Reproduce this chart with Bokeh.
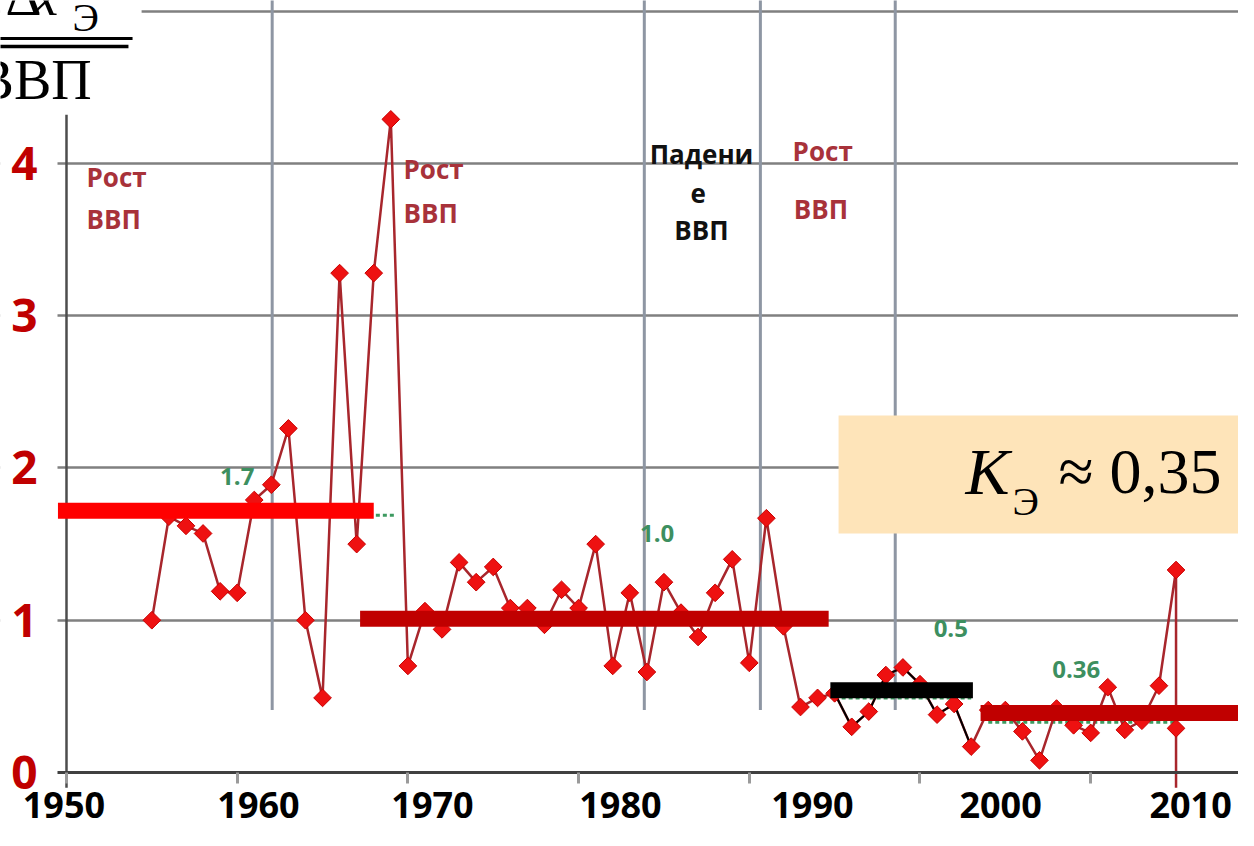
import numpy as np
from bokeh.plotting import figure
from bokeh.models import Range1d, FixedTicker, BoxAnnotation, Label, LinearAxis
from bokeh.embed import file_html
from bokeh.resources import INLINE
from bokeh.core.properties import value

# ---------------- data ----------------
years = list(range(1955, 2016)) + [2015, 2015]
values = [1.00, 1.68, 1.62, 1.57, 1.19, 1.18, 1.79, 1.89, 2.26, 1.00,
          0.49, 3.28, 1.50, 3.28, 4.29, 0.70, 1.06, 0.94, 1.38, 1.25,
          1.35, 1.08, 1.08, 0.97, 1.20, 1.08, 1.50, 0.70, 1.18, 0.66,
          1.25, 1.05, 0.89, 1.18, 1.40, 0.72, 1.67, 0.96, 0.43, 0.49,
          0.52, 0.30, 0.40, 0.64, 0.69, 0.58, 0.38, 0.45, 0.17, 0.41,
          0.41, 0.27, 0.08, 0.42, 0.31, 0.26, 0.56, 0.28, 0.34, 0.57,
          1.33, 0.29, -0.10]

# period averages (thick bars)
period_start = [1949.5, 1967.2, 1994.75, 2003.55]
period_end = [1968.0, 1994.65, 2003.1, 2019.6]
period_avg = [1.72, 1.01, 0.54, 0.39]
period_colors = ["#FF0000", "#C00000", "#000000", "#C00000"]

# hidden green average series
green_start = [1955.0, 1967.5, 1995.0, 2004.0]
green_end = [1969.3, 1994.5, 2003.0, 2015.0]
green_avg = [1.69, 1.00, 0.49, 0.33]
avg_labels = ["1.7", "1.0", "0.5", "0.36"]
avg_label_x = [1959.0, 1983.6, 2000.8, 2007.75]
avg_label_y = [1.885, 1.51, 0.887, 0.617]

# period separators
sep_years = [1962.05, 1983.85, 1990.65, 1998.55]
sep_bottom = 0.41
sep_top = 5.2

# region texts
reg_text = ["Рост", "ВВП", "Рост", "ВВП", "Падени", "е", "ВВП", "Рост", "ВВП"]
reg_x = [1951.17, 1951.17, 1969.74, 1969.74, 1987.2, 1987.0, 1987.2, 1994.3, 1994.2]
reg_y = [3.849, 3.573, 3.901, 3.612, 4.0, 3.744, 3.501, 4.02, 3.639]
reg_align = ["left", "left", "left", "left", "center", "center", "center", "center", "center"]
reg_color = ["#A8323A"] * 4 + ["#111111"] * 3 + ["#A8323A"] * 2

# axes
y_ticks = [0, 1, 2, 3, 4]
grid_ticks = [1, 2, 3, 4, 5]
x_tick_years = [1950, 1960, 1970, 1980, 1990, 2000, 2010]
x_tick_labels = ["1950", "1960", "1970", "1980", "1990", "2000", "2010"]
x_label_pos = [1949.85, 1961.25, 1971.44, 1982.45, 1993.7, 2004.72, 2015.85]

X0, X1 = 1946.134, 2018.659
Y0, Y1 = -0.381, 5.0706
FRAME_LEFT = 1949.473
PX = 152.25          # pixels per y unit


def base_fix(font_px):
    """shift (in y units) so that the drawn baseline lands on the requested y"""
    return 0.37 * font_px / PX


# ---------------- figure ----------------
p = figure(width=1238, height=830,
           x_range=Range1d(X0, X1), y_range=Range1d(Y0, Y1),
           output_backend="svg", toolbar_location=None,
           x_axis_location=None, y_axis_location="left",
           min_border_left=0, min_border_right=0, min_border_top=0, min_border_bottom=0)
p.outline_line_color = None
p.background_fill_color = "white"
p.border_fill_color = "white"
p.xgrid.visible = False
p.ygrid.ticker = FixedTicker(ticks=grid_ticks)
p.ygrid.grid_line_color = "#808080"
p.ygrid.grid_line_width = 2.5

# white mask left of the plot area (gridlines start at the axis tick area)
p.add_layout(BoxAnnotation(left=X0 - 1, right=FRAME_LEFT, bottom=Y0 - 1, top=Y1 + 1,
                           fill_color="white", fill_alpha=1.0, line_color=None,
                           level="underlay"))

yax = p.yaxis[0]
yax.fixed_location = 1950
yax.ticker = FixedTicker(ticks=y_ticks)
yax.axis_line_color = None
yax.major_tick_line_color = None
yax.minor_tick_line_color = None
yax.major_tick_in = 0
yax.major_tick_out = 0
yax.major_label_standoff = 29
yax.major_label_text_font = "Open Sans"
yax.major_label_text_font_style = "bold"
yax.major_label_text_font_size = "46px"
yax.major_label_text_color = "#C00000"

xax = LinearAxis(ticker=FixedTicker(ticks=x_label_pos, minor_ticks=x_tick_years),
                 fixed_location=0, bounds=(FRAME_LEFT, 2030),
                 major_label_overrides={float(k): v for k, v in zip(x_label_pos, x_tick_labels)},
                 axis_line_color="#404040", axis_line_width=3,
                 major_tick_line_color=None, major_tick_in=0, major_tick_out=0,
                 minor_tick_line_color="#9A9A9A", minor_tick_line_width=3,
                 minor_tick_in=0, minor_tick_out=11,
                 major_label_standoff=9,
                 major_label_text_font="Open Sans", major_label_text_font_style="bold",
                 major_label_text_font_size="36px", major_label_text_color="black")
p.add_layout(xax, "below")

# separators and y axis line
p.segment(x0=sep_years, x1=sep_years, y0=[sep_bottom] * 4, y1=[sep_top] * 4,
          line_color="#8E96A3", line_width=3)
p.segment(x0=[1950], x1=[1950], y0=[-0.1], y1=[4.32], line_color="#4D4D4D", line_width=2.5)

# hidden green averages
p.segment(x0=green_start, x1=green_end, y0=green_avg, y1=green_avg,
          line_color="#3D9A60", line_width=3, line_dash="4 3")

# main series
p.line(years, values, line_color="#A8262C", line_width=2.5)
p.line(years[40:49], values[40:49], line_color="black", line_width=2)
p.scatter(years[:-1], values[:-1], marker="square", angle=np.pi / 4, size=12.5,
          fill_color="#EE1111", line_color="#C80000", line_width=1)

# average bars
p.segment(x0=period_start, x1=period_end, y0=period_avg, y1=period_avg,
          line_color=period_colors, line_width=16, line_cap="butt")

# green labels
p.text(x=avg_label_x, y=[v + base_fix(24) for v in avg_label_y], text=avg_labels,
       text_font=value("Open Sans"), text_font_style="bold", text_font_size="24px",
       text_color="#3D8F60", text_baseline="alphabetic", text_align="left")

# region texts
p.text(x=reg_x, y=[v + base_fix(26) for v in reg_y], text=reg_text,
       text_align=reg_align, text_color=reg_color,
       text_font=value("Open Sans"), text_font_style="bold", text_font_size="26px",
       text_baseline="alphabetic")

# top-left fraction label
p.add_layout(BoxAnnotation(left=X0 - 1, right=1954.4, bottom=4.93, top=Y1 + 1,
                           fill_color="white", fill_alpha=1.0, line_color=None))
p.add_layout(BoxAnnotation(left=X0 - 1, right=1953.87, bottom=4.811, top=4.831,
                           fill_color="black", fill_alpha=1.0, line_color=None))
p.add_layout(BoxAnnotation(left=X0 - 1, right=1953.63, bottom=4.757, top=4.78,
                           fill_color="black", fill_alpha=1.0, line_color=None))
p.add_layout(Label(x=1946.43, y=4.9655 + base_fix(56), text="Δ", text_font="Liberation Serif",
                   text_font_size="56px", text_color="black", text_baseline="alphabetic"))
p.add_layout(Label(x=1948.07, y=4.9655 + base_fix(56), text="x", text_font="Liberation Serif",
                   text_font_style="italic", text_font_size="56px", text_color="black",
                   text_baseline="alphabetic"))
p.add_layout(Label(x=1950.35, y=4.86 + base_fix(40), text="Э", text_font="Liberation Serif",
                   text_font_size="40px", text_color="black", text_baseline="alphabetic"))
p.add_layout(Label(x=1944.73, y=4.414 + base_fix(56), text="ВВП", text_font="Liberation Serif",
                   text_font_size="56px", text_color="black", text_baseline="alphabetic"))

# K box
p.add_layout(BoxAnnotation(left=1995.23, right=X1 + 1, bottom=1.57, top=2.345,
                           fill_color="#FEE4B9", fill_alpha=1.0, line_color=None))
p.add_layout(Label(x=2002.67, y=1.819 + base_fix(66), text="K", text_font="Liberation Serif",
                   text_font_style="italic", text_font_size="66px", text_color="black",
                   text_baseline="alphabetic"))
p.add_layout(Label(x=2005.42, y=1.681 + base_fix(40), text="Э", text_font="Liberation Serif",
                   text_font_size="40px", text_color="black", text_baseline="alphabetic"))
p.add_layout(Label(x=2008.11, y=1.819 + base_fix(64), text="≈ 0,35", text_font="Liberation Serif",
                   text_font_size="64px", text_color="black", text_baseline="alphabetic"))

open("out.html", "w").write(file_html(p, INLINE))
